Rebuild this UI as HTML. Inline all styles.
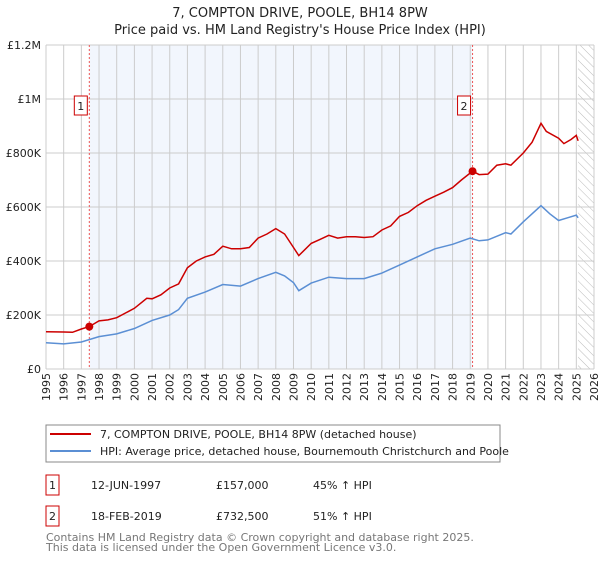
<!DOCTYPE html>
<html><head><meta charset="utf-8"><style>
body{margin:0;background:#fff;font-family:"Liberation Sans","DejaVu Sans",sans-serif;}
svg text{font-family:"DejaVu Sans","Liberation Sans",sans-serif;}
</style></head><body>
<svg id="c" width="600" height="560" xmlns="http://www.w3.org/2000/svg">
<defs><pattern id="hatch" width="6" height="6" patternUnits="userSpaceOnUse" patternTransform="rotate(-45)"><line x1="0" y1="0" x2="0" y2="6" stroke="#bbb" stroke-width="1"/></pattern></defs>
<text x="300" y="17" text-anchor="middle" font-size="13" fill="#222">7, COMPTON DRIVE, POOLE, BH14 8PW</text>
<text x="300" y="34" text-anchor="middle" font-size="13" fill="#222">Price paid vs. HM Land Registry's House Price Index (HPI)</text>
<g id="plot"></g>
<g>
<rect x="46" y="425" width="454" height="37" fill="#fff" stroke="#888"/>
<line x1="50" y1="434" x2="91" y2="434" stroke="#cc0000" stroke-width="2"/>
<text x="100" y="438" font-size="11" fill="#222">7, COMPTON DRIVE, POOLE, BH14 8PW (detached house)</text>
<line x1="50" y1="451" x2="91" y2="451" stroke="#5b8fd4" stroke-width="2"/>
<text x="100" y="455" font-size="11" fill="#222">HPI: Average price, detached house, Bournemouth Christchurch and Poole</text>
</g>
<g font-size="11" fill="#222">
<rect x="46" y="475" width="13" height="20" fill="#fff" stroke="#cc0000"/><text x="52.5" y="489" text-anchor="middle">1</text>
<text x="91" y="489">12-JUN-1997</text><text x="216" y="489">£157,000</text><text x="313" y="489">45% ↑ HPI</text>
</g>
<g font-size="11" fill="#222">
<rect x="46" y="506" width="13" height="20" fill="#fff" stroke="#cc0000"/><text x="52.5" y="520" text-anchor="middle">2</text>
<text x="91" y="520">18-FEB-2019</text><text x="216" y="520">£732,500</text><text x="313" y="520">51% ↑ HPI</text>
</g>
<text font-size="11" fill="#777"><tspan x="46" y="541">Contains HM Land Registry data © Crown copyright and database right 2025.</tspan><tspan x="46" y="551">This data is licensed under the Open Government Licence v3.0.</tspan></text>
</svg>
<script>
const yTicks=[0,200000,400000,600000,800000,1000000,1200000];
const yTickLabels=["£0","£200K","£400K","£600K","£800K","£1M","£1.2M"];
const years=[1995,1996,1997,1998,1999,2000,2001,2002,2003,2004,2005,2006,2007,2008,2009,2010,2011,2012,2013,2014,2015,2016,2017,2018,2019,2020,2021,2022,2023,2024,2025,2026];
const redX=[1995,1996,1996.5,1997,1997.45,1998,1998.5,1999,2000,2000.7,2001,2001.5,2002,2002.5,2003,2003.5,2004,2004.5,2005,2005.5,2006,2006.5,2007,2007.5,2008,2008.5,2009,2009.3,2010,2010.5,2011,2011.5,2012,2012.5,2013,2013.5,2014,2014.5,2015,2015.5,2016,2016.5,2017,2017.5,2018,2018.5,2019.13,2019.5,2020,2020.5,2021,2021.3,2022,2022.5,2023,2023.3,2024,2024.3,2024.7,2025,2025.1];
const redY=[138,137,136,148,157,178,182,190,225,262,260,275,300,315,375,400,415,425,455,445,445,450,485,500,520,500,450,420,465,480,495,485,490,490,487,490,515,530,565,580,605,625,640,655,672,700,732.5,720,722,755,760,755,800,840,910,880,855,835,850,865,845];
const blueX=[1995,1996,1997,1998,1999,2000,2001,2002,2002.5,2003,2004,2005,2006,2007,2008,2008.5,2009,2009.3,2010,2011,2012,2013,2014,2015,2016,2017,2018,2019,2019.5,2020,2021,2021.3,2022,2023,2023.5,2024,2024.5,2025,2025.1];
const blueY=[97,93,100,120,130,150,180,200,220,262,285,313,307,335,358,345,320,290,318,340,335,335,355,385,415,445,462,485,475,478,505,500,545,605,575,550,560,570,560];
const sales=[[1997.45,157000,"1"],[2019.13,732500,"2"]];
const NS="http://www.w3.org/2000/svg";
const X0=46,X1=594,Y0=369,Y1=45;
const xs=v=>X0+(v-1995)/(2026-1995)*(X1-X0);
const ys=v=>Y0-v/1200000*(Y0-Y1);
const g=document.getElementById('plot');
function mk(t,a){const e=document.createElementNS(NS,t);for(const k in a)e.setAttribute(k,a[k]);g.appendChild(e);return e;}
let e;
e=mk('rect',{x:xs(sales[0][0]),y:Y1,width:xs(sales[1][0])-xs(sales[0][0]),height:Y0-Y1,fill:'#f2f6fd'});


e=mk('rect',{x:xs(2025.1),y:Y1,width:X1-xs(2025.1),height:Y0-Y1,fill:'url(#hatch)'});


years.forEach(y=>{e=mk('line',{x1:xs(y),x2:xs(y),y1:Y1,y2:Y0,stroke:'#ccc','stroke-width':1});


const tx=xs(y)+4,ty=Y0+4;
const t=mk('text',{x:tx,y:ty,'font-size':11,fill:'#222','text-anchor':'end',transform:'rotate(-90 '+tx+' '+ty+')'});t.textContent=y;

});
yTicks.forEach((v,i)=>{e=mk('line',{x1:X0,x2:X1,y1:ys(v),y2:ys(v),stroke:'#ccc','stroke-width':1});


const t=mk('text',{x:X0-5,y:ys(v)+4,'font-size':11,fill:'#222','text-anchor':'end'});t.textContent=yTickLabels[i];

});
sales.forEach(s=>{e=mk('line',{x1:xs(s[0]),x2:xs(s[0]),y1:Y1,y2:Y0,stroke:'#e55','stroke-width':1,'stroke-dasharray':'2,2'});

});
function line(xa,ya,col,name){const p=xa.map((x,i)=>xs(x).toFixed(1)+','+ys(ya[i]*1000).toFixed(1)).join(' ');
const l=mk('polyline',{points:p,fill:'none',stroke:col,'stroke-width':1.5});

}
line(blueX,blueY,'#5b8fd4','hpi-line');
line(redX,redY,'#cc0000','price-line');
sales.forEach(s=>{e=mk('circle',{cx:xs(s[0]),cy:ys(s[1]),r:4,fill:'#cc0000'});


const bx=xs(s[0])-15;
e=mk('rect',{x:bx,y:96,width:13,height:19,fill:'#fff',stroke:'#cc0000'});


const t=mk('text',{x:bx+6.5,y:110,'font-size':11,fill:'#222','text-anchor':'middle'});t.textContent=s[2];

});
</script>
</body></html>
